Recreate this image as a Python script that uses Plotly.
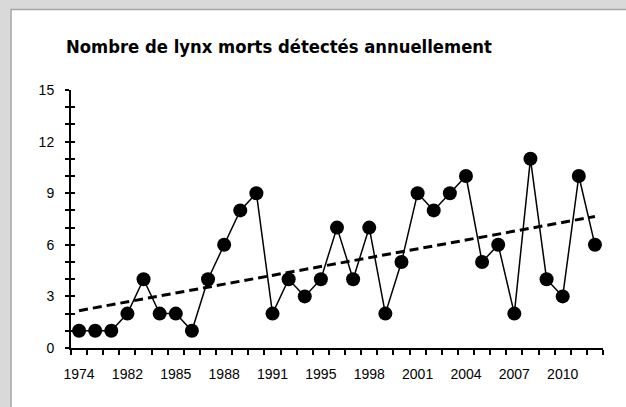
import numpy as np
import plotly.graph_objects as go

values = [1, 1, 1, 2, 4, 2, 2, 1, 4, 6, 8, 9, 2, 4, 3, 4, 7, 4, 7, 2, 5,
          9, 8, 9, 10, 5, 6, 2, 11, 4, 3, 10, 6]
tick_labels = ["1974", "1982", "1985", "1988", "1991", "1995", "1998",
               "2001", "2004", "2007", "2010"]
title_text = "Nombre de lynx morts détectés annuellement"

n = len(values)
x = list(range(n))
label_pos = list(range(0, n, 3))[:len(tick_labels)]

# linear trend (Excel-style trendline)
slope, intercept = np.polyfit(x, values, 1)
trend = [slope * xi + intercept for xi in x]

fig = go.Figure()
fig.add_trace(go.Scatter(
    x=x, y=trend, mode="lines",
    line=dict(color="black", width=3, dash="9px,5px"),
    hoverinfo="skip", showlegend=False,
))
fig.add_trace(go.Scatter(
    x=x, y=values, mode="lines+markers",
    line=dict(color="black", width=1.5),
    marker=dict(color="black", size=14),
    showlegend=False,
))
# invisible trace for overlay axis (inside ticks on y)
fig.add_trace(go.Scatter(x=[0], y=[0], yaxis="y2", mode="markers",
                         marker=dict(opacity=0), hoverinfo="skip",
                         showlegend=False))

tickfont = dict(family="Liberation Sans, Arial, sans-serif", size=14, color="black")

fig.update_layout(
    width=626, height=407,
    margin=dict(l=71, r=23, t=90, b=59),
    paper_bgcolor="#d9d9d9",
    plot_bgcolor="rgba(0,0,0,0)",
    xaxis=dict(
        range=[-0.5, n - 0.5],
        tickmode="array", tickvals=label_pos, ticktext=tick_labels,
        ticks="", showgrid=False, zeroline=False,
        showline=True, linecolor="black", linewidth=2,
        tickfont=tickfont, ticklabelstandoff=12,
        minor=dict(tickmode="array",
                   tickvals=[i - 0.5 for i in range(n + 1)],
                   ticks="outside", ticklen=5, tickwidth=1.5,
                   tickcolor="black", showgrid=False),
    ),
    yaxis=dict(
        range=[0, 15],
        tickmode="array", tickvals=list(range(0, 16, 3)),
        ticks="outside", ticklen=4, tickwidth=1.5, tickcolor="black",
        showgrid=False, zeroline=False,
        showline=True, linecolor="black", linewidth=2,
        tickfont=tickfont, ticklabelstandoff=8,
        minor=dict(tickmode="array", tickvals=list(range(0, 16)),
                   ticks="outside", ticklen=4, tickwidth=1.5,
                   tickcolor="black", showgrid=False),
    ),
    yaxis2=dict(
        range=[0, 15], overlaying="y", side="left",
        tickmode="array", tickvals=list(range(0, 16)),
        ticks="inside", ticklen=4, tickwidth=1.5, tickcolor="black",
        showticklabels=False, showgrid=False, zeroline=False,
        showline=False,
    ),
    shapes=[dict(
        type="rect", xref="paper", yref="paper", layer="below",
        x0=-60 / 532, x1=1.2, y0=-0.5, y1=338.5 / 258,
        fillcolor="white", line=dict(color="#a6a6a6", width=1.5),
    )],
    annotations=[dict(
        text="<b>" + title_text + "</b>", xref="paper", yref="paper",
        x=-7 / 532, y=(348 - 47) / 258, xanchor="left", yanchor="middle",
        showarrow=False,
        font=dict(family="DejaVu Sans Condensed", size=18.3, color="black"),
    )],
)

fig.write_html(
    "out.html",
    config={"displayModeBar": False},
    post_script="document.body.style.margin='0';"
                "document.body.style.background='#d9d9d9';",
)
